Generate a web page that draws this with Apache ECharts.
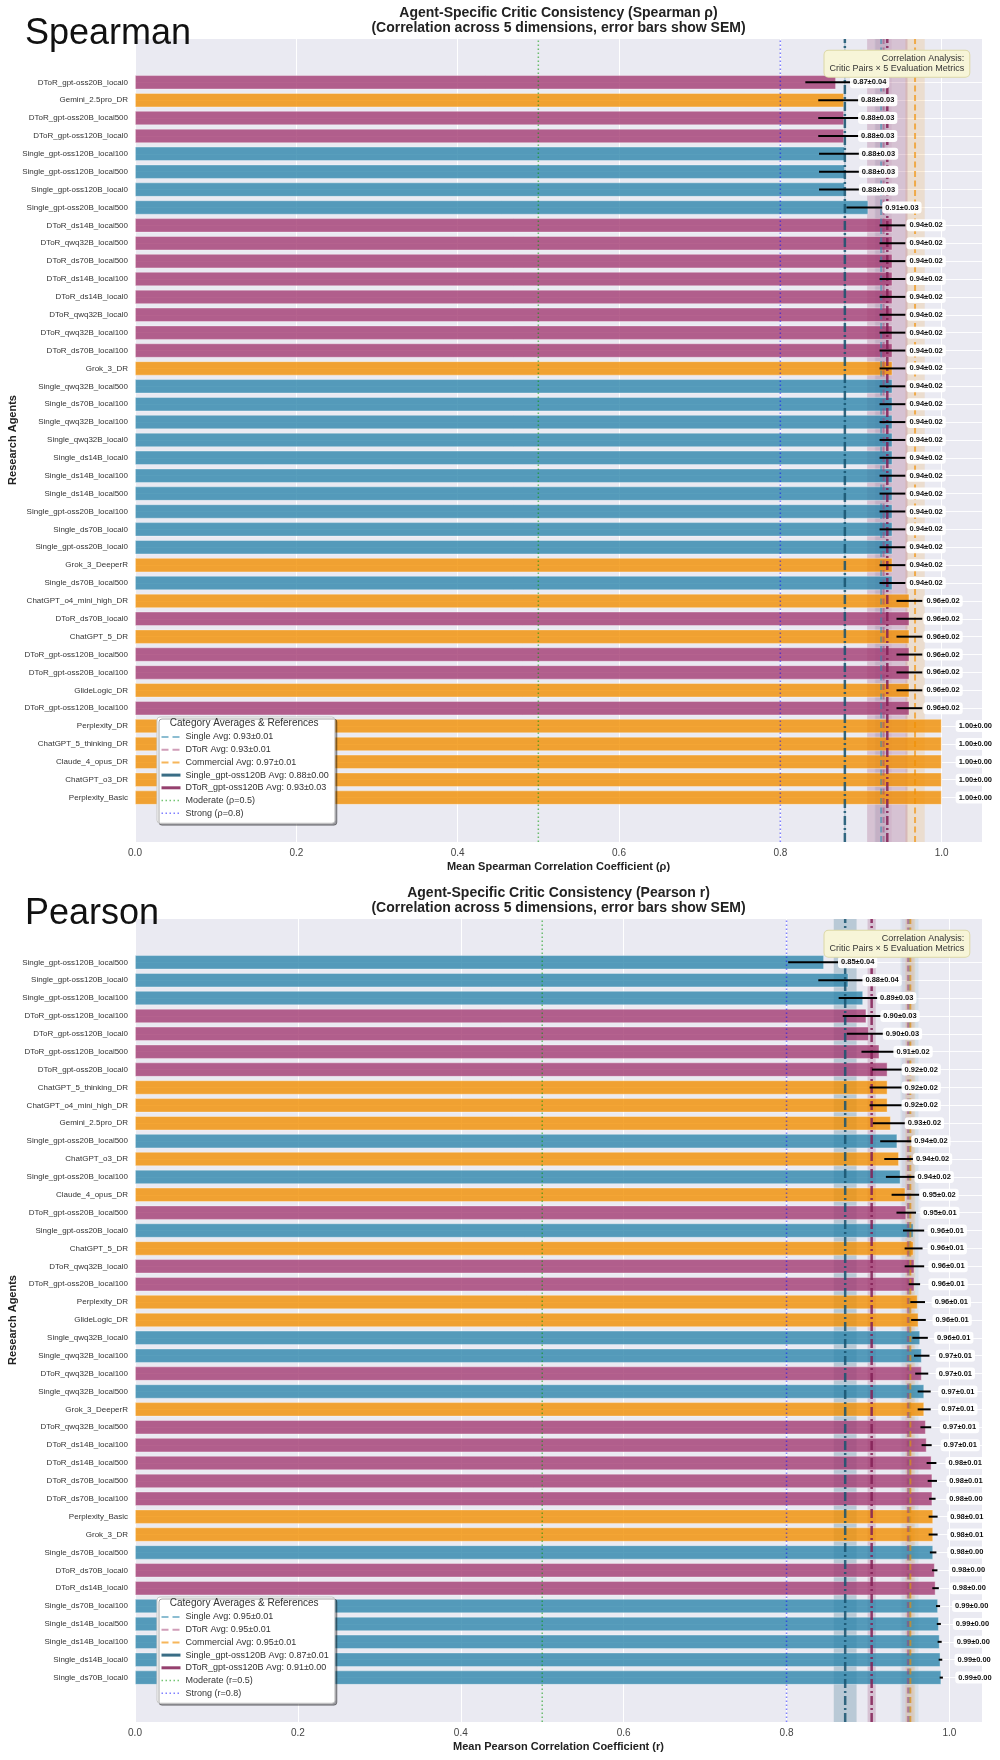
<!DOCTYPE html>
<html><head><meta charset="utf-8">
<script src="https://cdn.jsdelivr.net/npm/echarts@6/dist/echarts.min.js"></script>
<style>html,body{margin:0;padding:0;background:#fff}#c{width:1000px;height:1760px}</style>
</head><body><div id="c"></div>
<script>
// ---------------- DATA ----------------
const spearmanAgents = [
 'DToR_gpt-oss20B_local0','Gemini_2.5pro_DR','DToR_gpt-oss20B_local500','DToR_gpt-oss120B_local0',
 'Single_gpt-oss120B_local100','Single_gpt-oss120B_local500','Single_gpt-oss120B_local0','Single_gpt-oss20B_local500',
 'DToR_ds14B_local500','DToR_qwq32B_local500','DToR_ds70B_local500','DToR_ds14B_local100','DToR_ds14B_local0',
 'DToR_qwq32B_local0','DToR_qwq32B_local100','DToR_ds70B_local100','Grok_3_DR','Single_qwq32B_local500',
 'Single_ds70B_local100','Single_qwq32B_local100','Single_qwq32B_local0','Single_ds14B_local0','Single_ds14B_local100',
 'Single_ds14B_local500','Single_gpt-oss20B_local100','Single_ds70B_local0','Single_gpt-oss20B_local0','Grok_3_DeeperR',
 'Single_ds70B_local500','ChatGPT_o4_mini_high_DR','DToR_ds70B_local0','ChatGPT_5_DR','DToR_gpt-oss120B_local500',
 'DToR_gpt-oss20B_local100','GlideLogic_DR','DToR_gpt-oss120B_local100','Perplexity_DR','ChatGPT_5_thinking_DR',
 'Claude_4_opus_DR','ChatGPT_o3_DR','Perplexity_Basic'];
const spearmanMeans = [0.869,0.879,0.879,0.879,0.880,0.880,0.880,0.909,
 0.939,0.939,0.939,0.939,0.939,0.939,0.939,0.939,0.939,0.939,0.939,0.939,0.939,0.939,0.939,0.939,0.939,0.939,0.939,0.939,0.939,
 0.960,0.960,0.960,0.960,0.960,0.960,0.960,
 1.000,1.000,1.000,1.000,1.000];
const spearmanSems = [0.038,0.032,0.032,0.032,0.032,0.032,0.032,0.027,
 0.016,0.016,0.016,0.016,0.016,0.016,0.016,0.016,0.016,0.016,0.016,0.016,0.016,0.016,0.016,0.016,0.016,0.016,0.016,0.016,0.016,
 0.016,0.016,0.016,0.016,0.016,0.016,0.016,
 0,0,0,0,0];

const pearsonAgents = [
 'Single_gpt-oss120B_local500','Single_gpt-oss120B_local0','Single_gpt-oss120B_local100','DToR_gpt-oss120B_local100',
 'DToR_gpt-oss120B_local0','DToR_gpt-oss120B_local500','DToR_gpt-oss20B_local0','ChatGPT_5_thinking_DR',
 'ChatGPT_o4_mini_high_DR','Gemini_2.5pro_DR','Single_gpt-oss20B_local500','ChatGPT_o3_DR','Single_gpt-oss20B_local100',
 'Claude_4_opus_DR','DToR_gpt-oss20B_local500','Single_gpt-oss20B_local0','ChatGPT_5_DR','DToR_qwq32B_local0',
 'DToR_gpt-oss20B_local100','Perplexity_DR','GlideLogic_DR','Single_qwq32B_local0','Single_qwq32B_local100',
 'DToR_qwq32B_local100','Single_qwq32B_local500','Grok_3_DeeperR','DToR_qwq32B_local500','DToR_ds14B_local100',
 'DToR_ds14B_local500','DToR_ds70B_local500','DToR_ds70B_local100','Perplexity_Basic','Grok_3_DR',
 'Single_ds70B_local500','DToR_ds70B_local0','DToR_ds14B_local0','Single_ds70B_local100','Single_ds14B_local500',
 'Single_ds14B_local100','Single_ds14B_local0','Single_ds70B_local0'];
const pearsonMeans = [0.846,0.876,0.894,0.898,0.901,0.914,0.924,0.924,0.924,0.928,0.936,0.938,0.940,0.946,0.947,
 0.956,0.956,0.957,0.957,0.961,0.962,0.964,0.966,0.966,0.969,0.969,0.971,0.972,0.978,0.979,0.979,0.980,0.980,
 0.980,0.982,0.983,0.986,0.987,0.988,0.989,0.990];
const pearsonSems = [0.044,0.037,0.030,0.029,0.027,0.022,0.019,0.022,0.022,0.022,0.021,0.018,0.018,0.017,0.012,
 0.013,0.011,0.012,0.007,0.009,0.009,0.0095,0.0095,0.008,0.008,0.008,0.0066,0.0062,0.006,0.0057,0.004,0.0055,0.0055,
 0.004,0.0033,0.004,0.0025,0.0025,0.0025,0.0022,0.002];

const xTickValues = [0, 0.2, 0.4, 0.6, 0.8, 1.0];

const spearmanRefLabels = ['Single Avg: 0.93±0.01','DToR Avg: 0.93±0.01','Commercial Avg: 0.97±0.01',
 'Single_gpt-oss120B Avg: 0.88±0.00','DToR_gpt-oss120B Avg: 0.93±0.03','Moderate (ρ=0.5)','Strong (ρ=0.8)'];
const spearmanRefValues = [0.925, 0.928, 0.967, 0.880, 0.9326, 0.5, 0.8];
const spearmanRefSpread = [0.008, 0.010, 0.012, 0.001, 0.025, 0, 0];

const pearsonRefLabels = ['Single Avg: 0.95±0.01','DToR Avg: 0.95±0.01','Commercial Avg: 0.95±0.01',
 'Single_gpt-oss120B Avg: 0.87±0.01','DToR_gpt-oss120B Avg: 0.91±0.00','Moderate (r=0.5)','Strong (r=0.8)'];
const pearsonRefValues = [0.951, 0.949, 0.952, 0.872, 0.9045, 0.5, 0.8];
const pearsonRefSpread = [0.011, 0.007, 0.006, 0.014, 0.005, 0, 0];

// ---------------- STYLE ----------------
const FONT = '"Liberation Sans", Arial, Helvetica, sans-serif';
const BAR_COLORS = {Single:'rgba(46,134,171,0.8)', DToR:'rgba(162,59,114,0.8)', Commercial:'rgba(241,143,1,0.8)'};
function groupOf(name){ return name.startsWith('Single') ? 'Single' : (name.startsWith('DToR') ? 'DToR' : 'Commercial'); }
const REF_STYLES = [
 {color:'rgba(46,134,171,0.55)', width:2, type:[6,3.5], band:'rgba(46,134,171,0.10)', legendType:[7,4], legendWidth:2},
 {color:'rgba(162,59,114,0.5)', width:2, type:[6,3.5], band:'rgba(162,59,114,0.08)', legendType:[7,4], legendWidth:2},
 {color:'rgba(241,143,1,0.65)', width:2, type:[6,3.5], band:'rgba(241,143,1,0.14)', legendType:[7,4], legendWidth:2},
 {color:'rgba(24,84,112,0.85)', width:2.5, type:[9,3,2,3], band:'rgba(31,95,125,0.24)', legendType:'solid', legendWidth:3},
 {color:'rgba(130,30,85,0.85)', width:2.5, type:[9,3,2,3], band:'rgba(140,45,98,0.21)', legendType:'solid', legendWidth:3},
 {color:'rgba(0,150,0,0.55)', width:1.5, type:[1.5,2.5], band:null, legendType:[1.5,2.5], legendWidth:1.5},
 {color:'rgba(0,0,255,0.5)', width:1.5, type:[1.5,2.5], band:null, legendType:[1.5,2.5], legendWidth:1.5}
];

const panels = [
 {key:'Spearman', agents:spearmanAgents, means:spearmanMeans, sems:spearmanSems,
  refLabels:spearmanRefLabels, refValues:spearmanRefValues, refSpread:spearmanRefSpread,
  xMax:1.05, dy:0, title:'Agent-Specific Critic Consistency (Spearman ρ)',
  xName:'Mean Spearman Correlation Coefficient (ρ)'},
 {key:'Pearson', agents:pearsonAgents, means:pearsonMeans, sems:pearsonSems,
  refLabels:pearsonRefLabels, refValues:pearsonRefValues, refSpread:pearsonRefSpread,
  xMax:1.04, dy:880, title:'Agent-Specific Critic Consistency (Pearson r)',
  xName:'Mean Pearson Correlation Coefficient (r)'}
];

const PLOT_LEFT = 135, PLOT_W = 847;
const grid = [], xAxis = [], yAxis = [], series = [], legend = [], graphic = [];

panels.forEach((p, k) => {
  const gA = 2*k, gB = 2*k+1;
  grid.push({left:PLOT_LEFT, width:PLOT_W, top:39+p.dy, height:803, show:true,
    backgroundColor:'#EAEAF2', borderWidth:0, z:0, outerBoundsMode:'none', containLabel:false});
  grid.push({left:PLOT_LEFT, width:PLOT_W, top:82.3+p.dy, height:715.3, show:false, z:0,
    outerBoundsMode:'none', containLabel:false});

  xAxis.push({type:'value', gridIndex:gA, min:0, max:p.xMax, interval:0.2, z:1,
    axisLine:{show:false}, axisTick:{show:false},
    splitLine:{show:true, lineStyle:{color:'#ffffff', width:1}},
    axisLabel:{color:'#444', fontSize:10, fontFamily:FONT, margin:6,
      formatter:v => xTickValues.some(t => Math.abs(t - v) < 1e-6) ? v.toFixed(1) : ''},
    name:p.xName, nameLocation:'middle', nameGap:19, nameMoveOverlap:false,
    nameTextStyle:{fontWeight:'bold', fontSize:11, color:'#222', fontFamily:FONT}});
  xAxis.push({type:'value', gridIndex:gB, min:0, max:p.xMax, show:false});

  yAxis.push({type:'value', gridIndex:gA, min:0, max:1, show:false});
  yAxis.push({type:'category', gridIndex:gB, data:p.agents, inverse:true, boundaryGap:false, z:1,
    axisLine:{show:false}, axisTick:{show:false},
    splitLine:{show:true, lineStyle:{color:'rgba(255,255,255,0.9)', width:1}},
    axisLabel:{interval:0, fontSize:8, color:'#333', fontFamily:FONT, margin:7},
    name:'Research Agents', nameLocation:'middle', nameRotate:90, nameGap:117, nameMoveOverlap:false,
    nameTextStyle:{fontWeight:'bold', fontSize:11, color:'#222', fontFamily:FONT}});

  series.push({type:'bar', xAxisIndex:gB, yAxisIndex:gB, barWidth:'80%', clip:false, z:2,
    silent:true, animation:false,
    data:p.means.map((v,i) => ({value:v, itemStyle:{color:BAR_COLORS[groupOf(p.agents[i])],
      borderColor:'rgba(255,255,255,0.45)', borderWidth:0.8}}))});

  p.refLabels.forEach((name, r) => {
    const st = REF_STYLES[r], v = p.refValues[r], s = p.refSpread[r];
    const ser = {type:'line', name:name, xAxisIndex:gA, yAxisIndex:gA, z:3, silent:true, animation:false,
      symbol:'none', showSymbol:false, data:[[v,0],[v,1]],
      lineStyle:{color:st.color, width:st.width, type:st.type}, itemStyle:{color:st.color}};
    if (st.band && s > 0) {
      ser.markArea = {silent:true, itemStyle:{color:st.band}, data:[[{xAxis:v-s},{xAxis:v+s}]]};
    }
    series.push(ser);
  });

  series.push({type:'custom', xAxisIndex:gB, yAxisIndex:gB, z:6, silent:true, animation:false, clip:false,
    data:p.means.map((m,i) => [m, i, p.sems[i]]),
    encode:{x:0, y:1},
    renderItem:(params, api) => {
      const m = api.value(0), idx = api.value(1), s = api.value(2);
      const a = api.coord([m - s, idx]), b = api.coord([m + s, idx]), c = api.coord([m, idx]);
      return {type:'group', children:[
        {type:'line', shape:{x1:a[0], y1:a[1], x2:b[0], y2:b[1]}, style:{stroke:'#000', lineWidth:2}},
        {type:'text', x:c[0] + 14, y:c[1], style:{text:m.toFixed(2) + '±' + s.toFixed(2),
          font:'bold 7.5px ' + FONT, fill:'#111', align:'left', verticalAlign:'middle',
          backgroundColor:'rgba(255,255,255,0.95)', padding:[2,3,2,3], borderRadius:3}}
      ]};
    }});

  legend.push({orient:'vertical', left:157, top:717 + p.dy, z:10,
    backgroundColor:'#ffffff', borderColor:'#c8c8c8', borderWidth:1, borderRadius:3,
    shadowColor:'rgba(0,0,0,0.35)', shadowOffsetX:2, shadowOffsetY:2, shadowBlur:0,
    padding:[15,6,5,3], itemGap:2.7, itemWidth:19, itemHeight:10,
    textStyle:{fontSize:9, color:'#333', fontFamily:FONT, lineHeight:10},
    selectedMode:false,
    data:p.refLabels.map((n, r) => ({name:n,
      itemStyle:{opacity:0},
      lineStyle:{type:REF_STYLES[r].legendType, width:REF_STYLES[r].legendWidth, color:REF_STYLES[r].color}}))});

  graphic.push({type:'text', x:244.2, y:723.7 + p.dy, z:50,
    style:{text:'Category Averages & References', font:'10px ' + FONT, fill:'#333', align:'center', verticalAlign:'middle'}});
  graphic.push({type:'text', x:25, y:16.5 + p.dy, z:50,
    style:{text:p.key, font:'36px ' + FONT, fill:'#111', align:'left', verticalAlign:'top'}});
  graphic.push({type:'text', x:558.5, y:5.8 + p.dy, z:50,
    style:{text:p.title + '\n(Correlation across 5 dimensions, error bars show SEM)', font:'bold 14px ' + FONT,
      fill:'#222', align:'center', verticalAlign:'top', lineHeight:15}});
  graphic.push({type:'text', x:969.3, y:50.7 + p.dy, z:50,
    style:{text:'Correlation Analysis:\nCritic Pairs × 5 Evaluation Metrics', font:'9px ' + FONT, fill:'#333',
      align:'right', verticalAlign:'top', lineHeight:10, backgroundColor:'#f7f5d8',
      borderColor:'#dcd8a6', borderWidth:1, borderRadius:4, padding:[3,5,3,5]}});
});

const chart = echarts.init(document.getElementById('c'), null, {renderer:'canvas'});
chart.setOption({animation:false, backgroundColor:'#ffffff', grid, xAxis, yAxis, series, legend, graphic});
</script></body></html>
